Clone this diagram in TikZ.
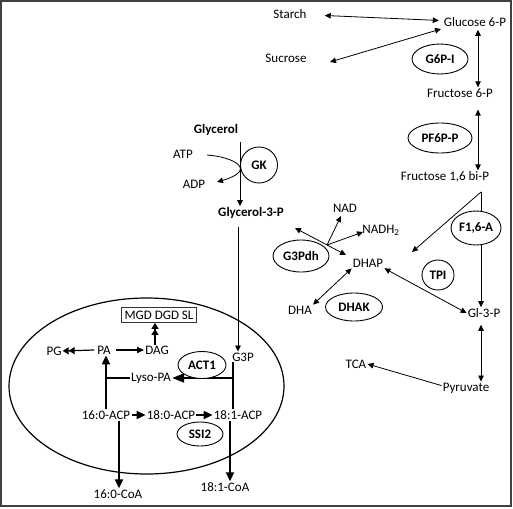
\documentclass[tikz,border=0pt]{standalone}
\usepackage{fontspec}
\setmainfont{Carlito}
\usetikzlibrary{arrows.meta,shapes.geometric}
\begin{document}
\begin{tikzpicture}[x=1pt,y=-1pt,
 lbl/.style={inner sep=1pt, font=\fontsize{13}{15}\selectfont},
 blbl/.style={inner sep=1pt, font=\fontsize{13}{15}\selectfont\bfseries},
 enz/.style={draw, ellipse, fill=white, line width=0.9pt, inner sep=0pt, font=\fontsize{13}{15}\selectfont\bfseries},
 thinar/.style={line width=0.8pt, -{Triangle[length=6pt,width=5.5pt]}},
 dblar/.style={line width=0.8pt, {Triangle[length=6pt,width=5.5pt]}-{Triangle[length=6pt,width=5.5pt]}},
 thkline/.style={line width=1.8pt},
 thkar/.style={line width=1.8pt, -{Triangle[length=9pt,width=8pt]}},
 twotip/.style={line width=1.2pt, -{Triangle[length=6pt,width=7pt] Triangle[length=6pt,width=7pt]}},
]
\useasboundingbox (0,0) rectangle (513,508);
\draw[line width=1.5pt, black!75] (1,1) rectangle (511,506);

% right pathway
\node[lbl] (starch) at (290,14) {Starch};
\node[lbl] (glc) at (475,22) {Glucose 6-P};
\node[lbl] (suc) at (286,58) {Sucrose};
\node[lbl] (f6p) at (460,93) {Fructose 6-P};
\node[lbl] (fbp) at (445,177) {Fructose 1,6 bi-P};
\node[lbl] (gl3p) at (484,313) {Gl-3-P};
\node[lbl] (dhap) at (368,263) {DHAP};
\node[lbl] (dha) at (300,310) {DHA};
\node[lbl] (tca) at (356,364) {TCA};
\node[lbl] (pyr) at (466,388) {Pyruvate};
\node[lbl] (nad) at (345,208) {NAD};
\node[lbl] (nadh) at (381,230) {NADH\textsubscript{2}};

\coordinate (colx) at (478,0);
\coordinate (col2) at (481,0);
\coordinate (apex) at (481,192);
\coordinate (dhapin) at (412,252);
\coordinate (g3a) at (295,228);
\coordinate (g3b) at (346,255);
\coordinate (br) at (327,245);
\coordinate (nadin) at (341,216);
\coordinate (nadhin) at (363,232);

\draw[dblar, shorten <=17pt, shorten >=4pt] (starch) -- (glc);
\draw[dblar] (330,62) coordinate (sucend) -- (441,29) coordinate (glcin);
\draw[dblar] (glc.south -| colx) ++(0,2) -- (f6p.north -| colx);
\draw[dblar] (f6p.south -| colx) ++(0,11) -- (fbp.north -| colx);
\draw[thinar] (apex) -- (dhapin);
\draw[thinar] (apex) -- (gl3p.north -| col2);
\draw[dblar] (gl3p.south -| col2) ++(0,6) -- (pyr.north -| col2);
\draw[thinar] (pyr.north west) ++(0,4) -- (tca.east);
\draw[dblar] (dhap.south east) -- (gl3p.west);
\draw[dblar] (dha.north east) -- (dhap.south west);
\draw[dblar] (g3a) -- (g3b);
\draw[thinar] (br) -- (nadin);
\draw[thinar] (br) -- (nadhin);

\node[enz, minimum width=56pt, minimum height=30pt] (g6pi) at (440,59) {G6P-I};
\node[enz, minimum width=64pt, minimum height=30pt] (pf6pp) at (440,138) {PF6P-P};
\node[enz, minimum width=50pt, minimum height=34pt] (f16a) at (476,228) {F1,6-A};
\node[enz, minimum width=32pt, minimum height=30pt] (tpi) at (438,275) {TPI};
\node[enz, minimum width=57pt, minimum height=28pt] (dhak) at (354,307) {DHAK};
\node[enz, minimum width=56pt, minimum height=32pt] (g3pdh) at (301,256) {G3Pdh};

% glycerol branch
\node[blbl] (glycerol) at (216,130) {Glycerol};
\node[lbl] (atp) at (183,154) {ATP};
\node[lbl] (adp) at (194,184) {ADP};
\node[blbl] (glyc3p) at (251,213) {Glycerol-3-P};
\node[enz, minimum width=37pt, minimum height=36pt] (gk) at (259,165) {GK};
\coordinate (gx) at (240,0);
\coordinate (atpout) at (207,155);
\coordinate (adpin) at (217,182);
\draw[thinar] (glycerol.south -| gx) ++(0,5) -- (glyc3p.north -| gx);
\draw[thinar] (atpout) .. controls (234,157) and (258,170) .. (adpin);

% chloroplast
\node[draw, ellipse, line width=1.2pt, minimum width=275pt, minimum height=176pt, inner sep=0pt] (chl) at (146.5,386) {};
\node[lbl] (g3p) at (243,357) {G3P};
\node[draw, line width=0.8pt, black!80, lbl, minimum width=75pt, minimum height=15pt, inner sep=1pt, text=black] (mgd) at (159,315) {MGD DGD SL};
\node[lbl] (dag) at (157,350) {DAG};
\node[lbl] (pa) at (104,350) {PA};
\node[lbl] (pg) at (54,351) {PG};
\node[lbl] (lysopa) at (151,378) {Lyso-PA};
\node[lbl] (c160) at (106,415) {16:0-ACP};
\node[lbl] (c180) at (171,415) {18:0-ACP};
\node[lbl] (c181) at (238,415) {18:1-ACP};
\node[lbl] (coa160) at (118,494) {16:0-CoA};
\node[lbl] (coa181) at (225,487) {18:1-CoA};

\coordinate (gx2) at (238,0);
\draw[line width=0.8pt, -{Triangle[length=6pt,width=5.5pt]}] (glyc3p.south -| gx2) ++(0,7) -- (g3p.north -| gx2);

\coordinate (rx) at (233,0);
\coordinate (lx) at (106,0);
\coordinate (cx1) at (119,0);
\coordinate (cx2) at (230,0);
\draw[thkline] (g3p.south -| rx) -- (c181.north -| rx);
\draw[thkar, -{Triangle[length=12pt,width=9pt]}] (lysopa -| rx) -- (lysopa.east);
\draw[thkar] (c160.north -| lx) -- (pa.south -| lx);
\draw[thkline] (lysopa.west) -- (lysopa -| lx);
\draw[thkar] (c160.east) ++(1,0) -- (c180.west);
\draw[thkar] (c180.east) -- (c181.west);
\draw[thkar] (c160.south -| cx1) -- (coa160.north -| cx1);
\draw[thkar] (c181.south -| cx2) -- (coa181.north -| cx2);
\draw[line width=1.2pt, -{Triangle[length=7pt,width=6pt]}] (pa.east) ++(4,0) -- (dag.west);
\draw[twotip] (pa.west) ++(-2,0) -- (pg.east);
\draw[twotip] (dag.north -| 155,0) -- (mgd.south -| 155,0);

\node[enz, minimum width=48pt, minimum height=27pt] (act1) at (202,365) {ACT1};
\node[enz, minimum width=46pt, minimum height=24pt] (ssi2) at (200,434) {SSI2};
\end{tikzpicture}
\end{document}
